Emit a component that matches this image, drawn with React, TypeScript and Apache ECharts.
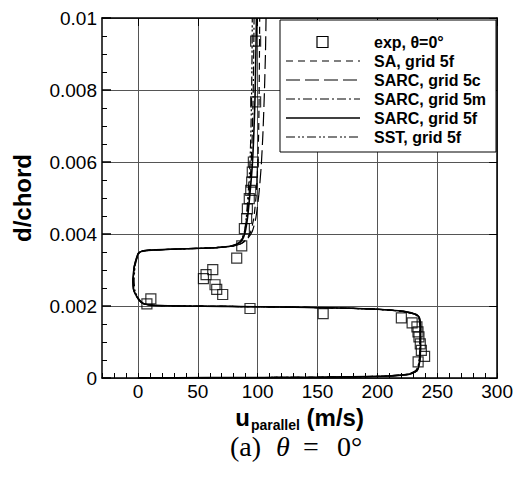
import React, { useEffect, useRef } from 'react';
import * as echarts from 'echarts';

// ---------- data ----------
const xTickValues = [0, 50, 100, 150, 200, 250, 300];
const yTickLabels = ['0', '0.002', '0.004', '0.006', '0.008', '0.01'];

const legendLabels = ['exp, θ=0°', 'SA, grid 5f', 'SARC, grid 5c', 'SARC, grid 5m', 'SARC, grid 5f', 'SST, grid 5f'];

// experiment
const expU = [98.3, 98.3, 96.4, 95.5, 95.0, 94.2, 93.0, 91.4, 90.8, 88.9, 86.7, 82.5, 62.5, 56.9, 54.7, 64.4, 65.8, 70.8, 10.8, 7.5, 93.6, 154.7, 220, 229, 233, 233.9, 234.7, 235.8, 236.7, 239.4, 234];
const expD = [0.00936, 0.00767, 0.0060, 0.00572, 0.00544, 0.00521, 0.00498, 0.0047, 0.00443, 0.00415, 0.00367, 0.00333, 0.00301, 0.00287, 0.00276, 0.00259, 0.00246, 0.00232, 0.0022, 0.00206, 0.00193, 0.00179, 0.00167, 0.00153, 0.00142, 0.00128, 0.00114, 0.00095, 0.00077, 0.0006, 0.00045];

// shared wall-jet portion of the profile (d values)
const lowD = [0, 0.00001, 0.00002, 0.00005, 0.0001, 0.0002, 0.0004, 0.0008, 0.0014, 0.00168, 0.00177, 0.00185, 0.00191, 0.00195, 0.00198, 0.002, 0.00202, 0.00206, 0.00213, 0.00226, 0.00244, 0.0027, 0.0031, 0.0033, 0.00347, 0.00353, 0.00356, 0.00359, 0.00362];

// SARC, grid 5f (solid)
const sarc5fU = [0, 60, 150, 205, 226, 233, 235, 236, 236, 235, 232, 222, 200, 160, 100, 40, 12, 5, 2, -1, -3.5, -4.2, -3, -1.5, 0.5, 4, 15, 40, 65, 77, 83, 87, 89.5, 91.5, 93.5, 95.5, 96.8, 97.8, 98.5, 99];
const sarc5fD = [...lowD, 0.00366, 0.00372, 0.00383, 0.00405, 0.00445, 0.0051, 0.0059, 0.0068, 0.0078, 0.009, 0.01];

// SARC, grid 5m (dash-dot)
const sarc5mU = [0, 60, 150, 204, 225, 232, 234.5, 235.5, 235.5, 234.5, 231, 221, 199, 159, 100, 40, 12, 5, 2, -0.8, -3.2, -3.8, -2.8, -1.2, 0.8, 4.5, 15, 40, 65, 77, 83, 86.5, 89, 90.8, 92.8, 94.5, 95.5, 96.2, 96.7, 97];
const sarc5mD = [...lowD, 0.00366, 0.00372, 0.00383, 0.00405, 0.00445, 0.0051, 0.0059, 0.0068, 0.0078, 0.009, 0.01];

// SST, grid 5f (dash-dot-dot)
const sstU = [0, 55, 145, 203, 225, 232, 234.5, 235.5, 235.5, 234.5, 231.5, 221, 199, 159, 100, 40, 12, 5, 2.5, -0.5, -2.5, -3.2, -2.4, -1, 1, 5, 16, 41, 65, 76.5, 82.5, 86, 88.8, 90.5, 92, 93.5, 94.3, 94.9, 95.3, 95.5];
const sstD = [...lowD, 0.00366, 0.00372, 0.00383, 0.00405, 0.00445, 0.0051, 0.0059, 0.0068, 0.0078, 0.009, 0.01];

// SA, grid 5f (dashed)
const saU = [0, 60, 150, 205, 226, 233, 235, 236, 236, 235, 232, 222, 200, 160, 100, 40, 12, 5, 2, -1, -3.5, -4, -3, -1.5, 0.5, 4, 15, 40, 65, 79, 85.5, 90, 94, 96.8, 98.8, 100, 100.8, 101.2, 101.5, 101.7];
const saD = [...lowD, 0.00366, 0.00372, 0.00383, 0.00405, 0.00445, 0.0051, 0.0059, 0.0068, 0.0078, 0.009, 0.01];

// SARC, grid 5c (long dash)
const sarc5cU = [0, 60, 150, 205, 226, 233, 235, 236, 236, 235, 232, 222, 200, 160, 100, 40, 12, 5, 2, -1, -3.6, -4.2, -3, -1.5, 0.5, 4, 15, 40, 65, 79, 86, 91, 95.5, 98.5, 101, 103, 104.4, 105.5, 106.5, 107];
const sarc5cD = [...lowD, 0.00366, 0.00373, 0.00385, 0.00407, 0.00445, 0.0051, 0.0059, 0.0068, 0.0078, 0.009, 0.01];

const pairs = (u: number[], d: number[]) => u.map((x, i) => [x, d[i]]);

const FONT = 'Liberation Sans';
const SERIF = 'Liberation Serif';

const dashSA = [7, 5];
const dash5c = [14, 5];
const dash5m = [9, 3, 2, 3];
const dashSST = [9, 3, 2, 2, 2, 3];

export default function App() {
  const ref = useRef<HTMLDivElement>(null);
  useEffect(() => {
    if (!ref.current) return;
    const chart = echarts.init(ref.current, null, { renderer: 'svg' });

    const lineSeries = (name: string, u: number[], d: number[], type: any, width: number) => ({
      name,
      type: 'line',
      data: pairs(u, d),
      symbol: 'none',
      smooth: 0.2,
      lineStyle: { color: '#000', width, type },
      z: 3,
    });

    const legX0 = 286, legX1 = 360, legTextX = 374, legY0 = 42, legStep = 19;
    const dashes: any[] = [null, dashSA, dash5c, dash5m, null, dashSST];
    const legendEls: any[] = [
      {
        type: 'rect', shape: { x: 280, y: 20, width: 216, height: 132 },
        style: { fill: '#fff', stroke: '#000', lineWidth: 1 }, z: 100,
      },
      {
        type: 'rect', shape: { x: 317, y: legY0 - 5.5, width: 11, height: 11 },
        style: { fill: 'none', stroke: '#000', lineWidth: 1.2 }, z: 101,
      },
    ];
    for (let i = 1; i < 6; i++) {
      legendEls.push({
        type: 'line', shape: { x1: legX0, y1: legY0 + i * legStep, x2: legX1, y2: legY0 + i * legStep },
        style: { stroke: '#000', lineWidth: i === 4 ? 1.5 : 1.2, lineDash: dashes[i] || undefined }, z: 101,
      });
    }
    legendLabels.forEach((t, i) => {
      legendEls.push({
        type: 'text', x: legTextX, y: legY0 + i * legStep,
        style: { text: t, font: `bold 16px "${FONT}"`, fill: '#000', verticalAlign: 'middle' }, z: 101,
      });
    });

    const capY = 446;
    const captionEls: any[] = [
      { type: 'text', x: 230, y: capY, z: 101, style: { text: '(a)', font: `28px "${SERIF}"`, fill: '#000', verticalAlign: 'middle', align: 'left' } },
      { type: 'text', x: 276, y: capY, z: 101, style: { text: 'θ', font: `italic 28px "${SERIF}"`, fill: '#000', verticalAlign: 'middle', align: 'left' } },
      { type: 'text', x: 303, y: capY, z: 101, style: { text: '=', font: `28px "${SERIF}"`, fill: '#000', verticalAlign: 'middle', align: 'left' } },
      { type: 'text', x: 337, y: capY, z: 101, style: { text: '0°', font: `28px "${SERIF}"`, fill: '#000', verticalAlign: 'middle', align: 'left' } },
    ];

    chart.setOption({
      animation: false,
      backgroundColor: '#fff',
      grid: { left: 102, right: 18, top: 18, bottom: 104, containLabel: false },
      xAxis: [
        {
          type: 'value', min: -30, max: 300, interval: 10, position: 'bottom',
          axisLine: { show: true, onZero: false, lineStyle: { color: '#000', width: 1.5 } },
          axisTick: { show: true, inside: true, length: 5, lineStyle: { color: '#000', width: 1 } },
          axisLabel: { customValues: xTickValues, fontSize: 19, color: '#000', fontFamily: FONT, margin: 4 },
          splitLine: { show: false },
          name: '{b|u}{s|parallel}{b| (m/s)}',
          nameLocation: 'middle', nameGap: 23,
          nameTextStyle: {
            rich: {
              b: { fontSize: 24, fontWeight: 'bold', fontFamily: FONT, color: '#000', verticalAlign: 'top', lineHeight: 24 },
              s: { fontSize: 14, fontWeight: 'bold', fontFamily: FONT, color: '#000', verticalAlign: 'top', lineHeight: 13, padding: [12, 0, 0, 1] },
            },
          },
        },
        {
          type: 'value', min: -30, max: 300, position: 'top',
          axisLine: { show: true, onZero: false, lineStyle: { color: '#000', width: 1.5 } },
          axisTick: { show: true, customValues: xTickValues, inside: true, length: 8, lineStyle: { color: '#000' } },
          axisLabel: { show: false },
          splitLine: { show: true, lineStyle: { color: '#555', width: 1 } },
        },
      ],
      yAxis: [
        {
          type: 'value', min: 0, max: 0.01, interval: 0.002, position: 'left',
          axisLine: { show: true, onZero: false, lineStyle: { color: '#000', width: 1.5 } },
          axisTick: { show: true, inside: true, length: 9, lineStyle: { color: '#000', width: 1.5 } },
          minorTick: { show: true, splitNumber: 4, length: 5, lineStyle: { color: '#000', width: 1 } },
          axisLabel: {
            fontSize: 19, color: '#000', fontFamily: FONT, margin: 5,
            formatter: (v: number) => yTickLabels[Math.round(v / 0.002)],
          },
          splitLine: { show: true, lineStyle: { color: '#555', width: 1 } },
          name: 'd/chord', nameLocation: 'middle', nameGap: 68,
          nameTextStyle: { fontSize: 24, fontWeight: 'bold', fontFamily: FONT, color: '#000' },
        },
        {
          type: 'value', min: 0, max: 0.01, interval: 0.002, position: 'right',
          axisLine: { show: true, onZero: false, lineStyle: { color: '#000', width: 1.5 } },
          axisTick: { show: true, inside: true, length: 8, lineStyle: { color: '#000' } },
          axisLabel: { show: false },
          splitLine: { show: false },
        },
      ],
      series: [
        lineSeries('SA, grid 5f', saU, saD, dashSA, 1.2),
        lineSeries('SARC, grid 5c', sarc5cU, sarc5cD, dash5c, 1.2),
        lineSeries('SARC, grid 5m', sarc5mU, sarc5mD, dash5m, 1.2),
        lineSeries('SST, grid 5f', sstU, sstD, dashSST, 1.2),
        lineSeries('SARC, grid 5f', sarc5fU, sarc5fD, 'solid', 1.6),
        {
          name: 'exp, θ=0°', type: 'scatter', data: pairs(expU, expD),
          symbol: 'rect', symbolSize: 10,
          itemStyle: { color: 'rgba(0,0,0,0)', borderColor: '#000', borderWidth: 1.2 },
          z: 5,
        },
      ],
      graphic: [...legendEls, ...captionEls],
    });
    return () => chart.dispose();
  }, []);
  return <div ref={ref} style={{ width: 516, height: 482, position: 'absolute', left: 0, top: 0 }} />;
}
